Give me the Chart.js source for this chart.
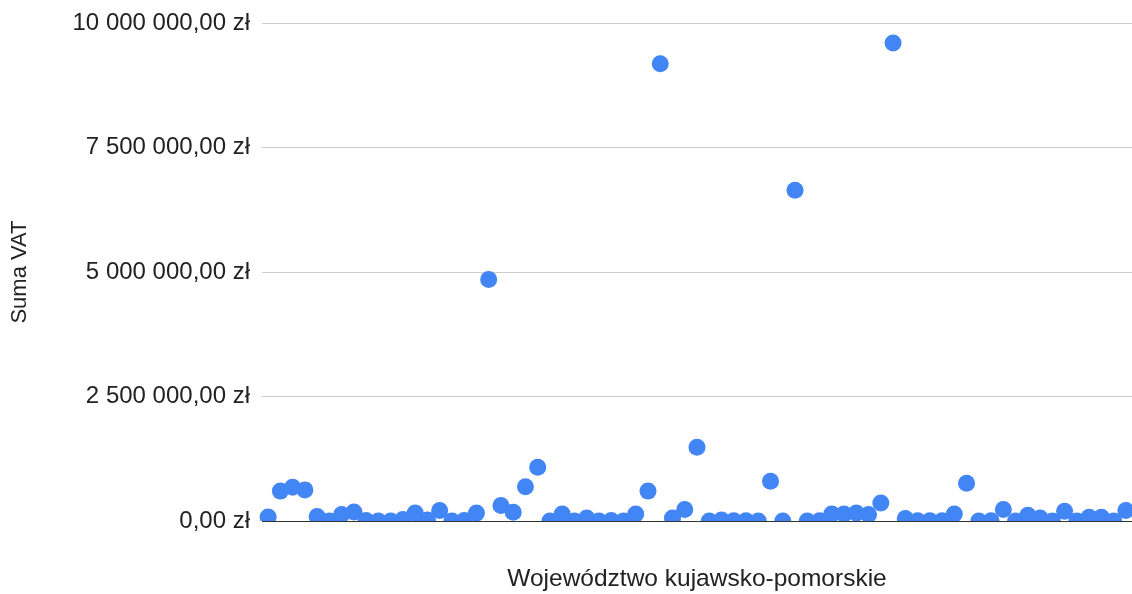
<!DOCTYPE html>
<html>
<head>
<meta charset="utf-8">
<script src="https://cdn.jsdelivr.net/npm/chart.js@4.4.1/dist/chart.umd.min.js"></script>
<style>
  html, body { margin: 0; padding: 0; background: #fff; }
  #wrap { width: 1132px; height: 594px; }
</style>
</head>
<body>
<div id="wrap"><canvas id="vatChart"></canvas></div>
<script>
// Suma VAT dla kolejnych pozycji (województwo kujawsko-pomorskie)
const categories = Array.from({ length: 71 }, (_, i) => String(i + 1));
const sumaVat = [
  80000, 600000, 680000, 625000, 90000, 0, 130000, 180000, 10000, 0,
  0, 30000, 160000, 20000, 210000, 0, 10000, 160000, 4850000, 310000,
  175000, 690000, 1080000, 0, 140000, 0, 60000, 0, 10000, 0,
  140000, 600000, 9180000, 60000, 230000, 1480000, 0, 20000, 5000, 5000,
  0, 800000, 0, 6640000, 0, 5000, 140000, 140000, 160000, 130000,
  360000, 9600000, 50000, 5000, 5000, 5000, 140000, 760000, 0, 5000,
  230000, 0, 115000, 60000, 0, 195000, 0, 75000, 75000, 0,
  210000
];
const yTicks = [0, 2500000, 5000000, 7500000, 10000000];

function zl(v) {
  const whole = Math.round(v).toString().replace(/\B(?=(\d{3})+(?!\d))/g, ' ');
  return whole + ',00 zł';
}

const ctx = document.getElementById('vatChart').getContext('2d');
new Chart(ctx, {
  type: 'line',
  data: {
    labels: categories,
    datasets: [{
      label: 'Suma VAT',
      data: sumaVat,
      showLine: false,
      pointRadius: 8.5,
      pointHoverRadius: 8.5,
      pointBorderWidth: 0,
      pointBackgroundColor: '#4285f4',
      borderColor: '#4285f4',
      clip: { left: 12, top: 12, right: 12, bottom: 0 }
    }]
  },
  options: {
    responsive: true,
    maintainAspectRatio: false,
    animation: false,
    layout: { autoPadding: false, padding: { top: 23, right: 0, bottom: 0, left: 0 } },
    plugins: {
      legend: { display: false },
      tooltip: { enabled: false }
    },
    scales: {
      x: {
        offset: true,
        grid: { display: false },
        border: { display: true, color: '#333', width: 1, z: 1 },
        ticks: { display: false },
        title: {
          display: true,
          text: 'Województwo kujawsko-pomorskie',
          color: '#222',
          font: { family: 'Liberation Sans, Arial', size: 24.5 },
          padding: { top: 0, bottom: 0 }
        },
        afterFit: s => { s.height = 73; }
      },
      y: {
        min: 0,
        max: 10000000,
        afterBuildTicks: s => { s.ticks = yTicks.map(v => ({ value: v })); },
        grid: { color: '#cccccc', drawTicks: false },
        border: { display: false },
        ticks: {
          color: '#222',
          padding: 12,
          font: { family: 'Liberation Sans, Arial', size: 24 },
          callback: v => zl(v)
        },
        title: {
          display: true,
          text: 'Suma VAT',
          color: '#222',
          font: { family: 'Liberation Sans, Arial', size: 22 },
          padding: { top: 7, bottom: 0 }
        },
        afterFit: s => { s.width = 262; s.paddingTop = 0; s.paddingBottom = 0; }
      }
    }
  }
});
</script>
</body>
</html>
